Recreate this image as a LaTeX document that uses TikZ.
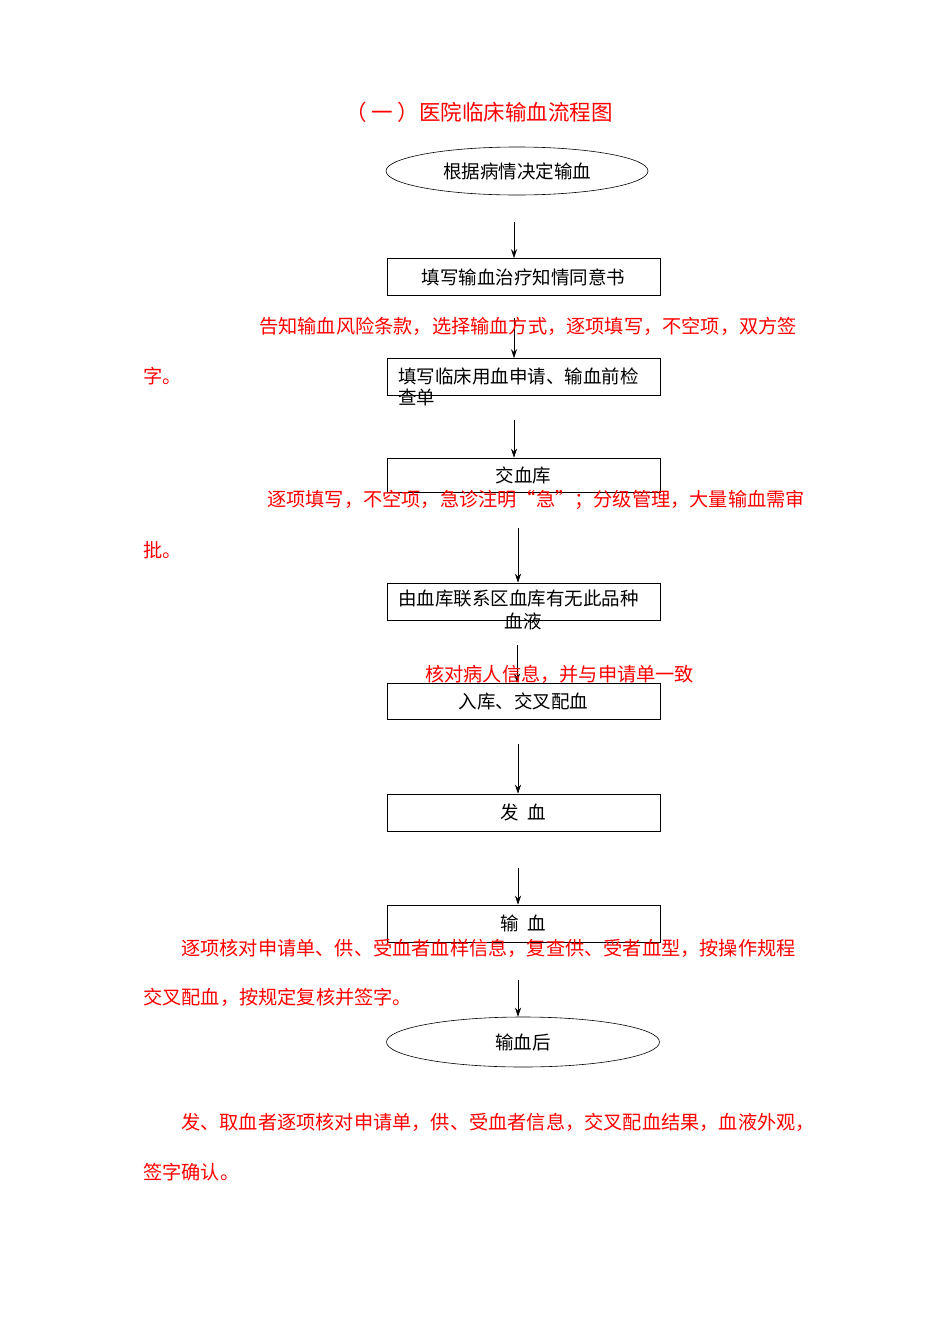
\documentclass[tikz,border=0pt]{standalone}
\usepackage{fontspec}
\setmainfont{Noto Sans CJK SC}
\usetikzlibrary{shapes.geometric,arrows.meta}
\begin{document}
\begin{tikzpicture}[x=1pt,y=-1pt,
 box/.style={draw,semithick,minimum width=273pt,minimum height=37pt,inner sep=0pt},
 ell/.style={draw,semithick,ellipse,inner sep=0pt},
 arr/.style={-{Stealth[length=9pt,width=6pt]},semithick},
 note/.style={text=red,anchor=west,inner sep=0pt,font=\fontsize{19.2}{22}\selectfont},
 every node/.append style={font=\fontsize{18.5}{21}\selectfont}]
\useasboundingbox (0,0) rectangle (950,1344);
\node[text=red,font=\fontsize{21.5}{24}\selectfont] (title) at (479,112) {（ 一 ）医院临床输血流程图};
\node[ell,minimum width=262pt,minimum height=48pt] (e1) at (517,171) {根据病情决定输血};
\node[box] (b2) at (523.5,277) {填写输血治疗知情同意书};
\node[box] (b3) at (523.5,377) {};
\node[anchor=west,inner sep=0pt] (b3a) at (398,376) {填写临床用血申请、输血前检};
\node[anchor=west,inner sep=0pt] (b3b) at (398,397) {查单};
\node[box,minimum height=34pt] (b4) at (523.5,475) {交血库};
\node[box] (b5) at (523.5,601.5) {};
\node[anchor=west,inner sep=0pt] (b5a) at (398,599) {由血库联系区血库有无此品种};
\node[inner sep=0pt] (b5b) at (523,621) {血液};
\node[box,minimum height=36pt] (b6) at (523.5,701) {入库、交叉配血};
\node[box] (b7) at (523.5,812.5) {发\ \ 血};
\node[box] (b8) at (523.5,923.5) {输\ \ 血};
\node[ell,minimum width=273pt,minimum height=50pt] (e2) at (523,1042) {输血后};
\coordinate (a1) at (514,222); \coordinate (a2) at (514,318);
\coordinate (a3) at (514,420); \coordinate (a4) at (518,528);
\coordinate (a5) at (517,645); \coordinate (a6) at (518,744);
\coordinate (a7) at (518,868); \coordinate (a8) at (518,980);
\draw[arr] (a1) -- (a1|-b2.north);
\draw[arr] (a2) -- (a2|-b3.north);
\draw[arr] (a3) -- (a3|-b4.north);
\draw[arr] (a4) -- (a4|-b5.north);
\draw[arr] (a5) -- (a5|-b6.north);
\draw[arr] (a6) -- (a6|-b7.north);
\draw[arr] (a7) -- (a7|-b8.north);
\draw[arr] (a8) -- (a8|-e2.north);
\node[note] (n1) at (259,326) {告知输血风险条款，选择输血方式，逐项填写，不空项，双方签};
\node[note] (n1b) at (143,376) {字。};
\node[note] (n2) at (267,500) {逐项填写，不空项，急诊注明“急”；分级管理，大量输血需审};
\node[note] (n2b) at (143,550) {批。};
\node[note] (n3) at (425,674) {核对病人信息，并与申请单一致};
\node[note] (n4) at (181,948) {逐项核对申请单、供、受血者血样信息，复查供、受者血型，按操作规程};
\node[note] (n4b) at (143,997) {交叉配血，按规定复核并签字。};
\node[note] (n5) at (181,1122) {发、取血者逐项核对申请单，供、受血者信息，交叉配血结果，血液外观，};
\node[note] (n5b) at (143,1172) {签字确认。};
\end{tikzpicture}
\end{document}
